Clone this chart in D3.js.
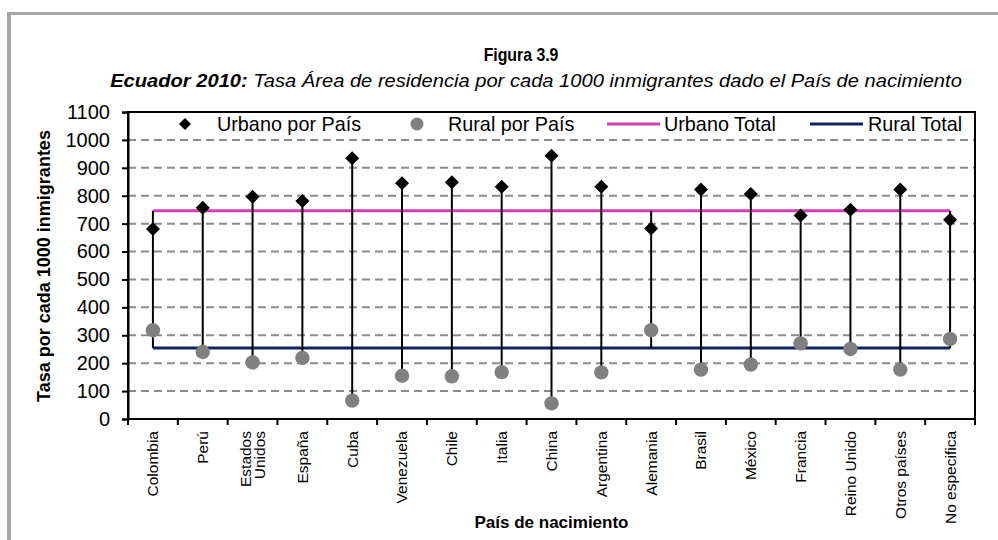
<!DOCTYPE html>
<html>
<head>
<meta charset="utf-8">
<script src="https://cdn.jsdelivr.net/npm/d3@7/dist/d3.min.js"></script>
<style>
  html, body { margin: 0; padding: 0; background: #ffffff; }
  svg { display: block; font-family: "Liberation Sans", Arial, sans-serif; }
</style>
</head>
<body>
<svg id="chart" width="998" height="540"></svg>
<script>
// ---- data ----
const categories = ["Colombia", "Perú", "Estados\nUnidos", "España", "Cuba", "Venezuela", "Chile", "Italia",
  "China", "Argentina", "Alemania", "Brasil", "México", "Francia", "Reino Unido", "Otros países", "No especifica"];
const urbanoPorPais = [681, 757, 796, 781, 934, 845, 848, 832, 943, 832, 683, 822, 806, 729, 750, 822, 714];
const ruralPorPais  = [318, 240, 203, 219, 66, 155, 153, 168, 56, 167, 318, 177, 195, 271, 251, 177, 287];
const urbanoTotal = 746;
const ruralTotal = 254;
const yTicks = [0, 100, 200, 300, 400, 500, 600, 700, 800, 900, 1000, 1100];
const legendLabels = ["Urbano por País", "Rural por País", "Urbano Total", "Rural Total"];
const titleText = "Figura 3.9";
const subtitleBold = "Ecuador 2010:";
const subtitleRest = " Tasa Área de residencia por cada 1000 inmigrantes dado el País de nacimiento";
const yTitle = "Tasa por cada 1000 inmigrantes";
const xTitle = "País de nacimiento";

// ---- layout ----
const svg = d3.select("#chart");
const pL = 128, pR = 975, pT = 112, pB = 419;
const colMag = "#d63cb4", colNavy = "#0c2461", colGray = "#808080";

const x = d3.scaleBand().domain(categories).range([pL, pR]).padding(0);
const y = d3.scaleLinear().domain([0, 1100]).range([pB, pT]);

// outer frame
svg.append("line").attr("x1", 9).attr("x2", 9).attr("y1", 12).attr("y2", 540)
  .attr("stroke", "#a6a6a6").attr("stroke-width", 4);
svg.append("line").attr("x1", 7).attr("x2", 998).attr("y1", 13.5).attr("y2", 13.5)
  .attr("stroke", "#a6a6a6").attr("stroke-width", 3);

// titles
svg.append("text").attr("transform", "translate(521,61) scale(0.88,1)").attr("text-anchor", "middle")
  .attr("font-size", 18).attr("font-weight", "bold").text(titleText);
const sub = svg.append("text").attr("transform", "translate(536,87) scale(1.06,1)").attr("text-anchor", "middle")
  .attr("font-size", 19).attr("font-style", "italic");
sub.append("tspan").attr("font-weight", "bold").text(subtitleBold);
sub.append("tspan").text(subtitleRest);

// gridlines
svg.append("g").selectAll("line").data(yTicks.filter(d => d > 0 && d < 1100)).join("line")
  .attr("x1", pL).attr("x2", pR)
  .attr("y1", d => y(d)).attr("y2", d => y(d))
  .attr("stroke", "#8c8c8c").attr("stroke-width", 2).attr("stroke-dasharray", "8,5");

// plot border
svg.append("rect").attr("x", pL).attr("y", pT).attr("width", pR - pL).attr("height", pB - pT)
  .attr("fill", "none").attr("stroke", "#000").attr("stroke-width", 2);

// y axis
const yAxis = svg.append("g").attr("transform", `translate(${pL},0)`)
  .call(d3.axisLeft(y).tickValues(yTicks).tickSize(6).tickPadding(12).tickFormat(d3.format("d")));
yAxis.select(".domain").attr("stroke-width", 2);
yAxis.selectAll(".tick line").attr("stroke-width", 2);
yAxis.selectAll("text").attr("font-size", 20).attr("fill", "#000")
  .attr("font-family", "'Liberation Sans', Arial, sans-serif");

// x axis ticks at band boundaries
const boundaries = categories.map(c => x(c)).concat([pR]);
svg.append("g").selectAll("line").data(boundaries).join("line")
  .attr("x1", d => d).attr("x2", d => d).attr("y1", pB).attr("y2", pB + 6)
  .attr("stroke", "#000").attr("stroke-width", 2);

// x labels
const xl = svg.append("g").selectAll("text").data(categories).join("text")
  .attr("transform", d => `translate(${x(d) + x.bandwidth() / 2},431) rotate(-90)`)
  .attr("text-anchor", "end").attr("font-size", 15.5);
xl.each(function(d) {
  const lines = d.split("\n");
  const n = lines.length, lh = 14;
  d3.select(this).selectAll("tspan").data(lines).join("tspan")
    .attr("x", 0).attr("y", (l, i) => (i - (n - 1) / 2) * lh).attr("dy", "0.35em").text(l => l);
});

// axis titles
svg.append("text").attr("transform", `translate(50,266) rotate(-90)`).attr("text-anchor", "middle")
  .attr("font-size", 18).attr("font-weight", "bold").text(yTitle);
svg.append("text").attr("x", (pL + pR) / 2).attr("y", 528).attr("text-anchor", "middle")
  .attr("font-size", 17).attr("font-weight", "bold").text(xTitle);

// total lines
const xFirst = x(categories[0]) + x.bandwidth() / 2;
const xLast = x(categories[categories.length - 1]) + x.bandwidth() / 2;
svg.append("line").attr("x1", xFirst).attr("x2", xLast).attr("y1", y(urbanoTotal)).attr("y2", y(urbanoTotal))
  .attr("stroke", colMag).attr("stroke-width", 3);
svg.append("line").attr("x1", xFirst).attr("x2", xLast).attr("y1", y(ruralTotal)).attr("y2", y(ruralTotal))
  .attr("stroke", colNavy).attr("stroke-width", 3);

// high-low lines
const rows = categories.map((c, i) => ({ c, u: urbanoPorPais[i], r: ruralPorPais[i] }));
svg.append("g").selectAll("line").data(rows).join("line")
  .attr("x1", d => x(d.c) + x.bandwidth() / 2).attr("x2", d => x(d.c) + x.bandwidth() / 2)
  .attr("y1", d => y(Math.max(d.u, d.r, urbanoTotal, ruralTotal)))
  .attr("y2", d => y(Math.min(d.u, d.r, urbanoTotal, ruralTotal)))
  .attr("stroke", "#000").attr("stroke-width", 2);

// markers
const diamond = "M0,-7L7,0L0,7L-7,0Z";
svg.append("g").selectAll("circle").data(rows).join("circle")
  .attr("cx", d => x(d.c) + x.bandwidth() / 2).attr("cy", d => y(d.r)).attr("r", 7.2)
  .attr("fill", colGray);
svg.append("g").selectAll("path").data(rows).join("path")
  .attr("transform", d => `translate(${x(d.c) + x.bandwidth() / 2},${y(d.u)})`)
  .attr("d", diamond).attr("fill", "#000");

// legend
const ly = 124;
const lg = svg.append("g").attr("font-size", 19.8);
lg.append("path").attr("transform", `translate(185,${ly})`).attr("d", "M0,-6L6,0L0,6L-6,0Z").attr("fill", "#000");
lg.append("text").attr("x", 217).attr("y", ly + 7).text(legendLabels[0]);
lg.append("circle").attr("cx", 417).attr("cy", ly).attr("r", 6.5).attr("fill", colGray);
lg.append("text").attr("x", 448).attr("y", ly + 7).text(legendLabels[1]);
lg.append("line").attr("x1", 607).attr("x2", 660).attr("y1", ly).attr("y2", ly).attr("stroke", colMag).attr("stroke-width", 3);
lg.append("text").attr("x", 664).attr("y", ly + 7).text(legendLabels[2]);
lg.append("line").attr("x1", 810).attr("x2", 863).attr("y1", ly).attr("y2", ly).attr("stroke", colNavy).attr("stroke-width", 3);
lg.append("text").attr("x", 868).attr("y", ly + 7).text(legendLabels[3]);
</script>
</body>
</html>
